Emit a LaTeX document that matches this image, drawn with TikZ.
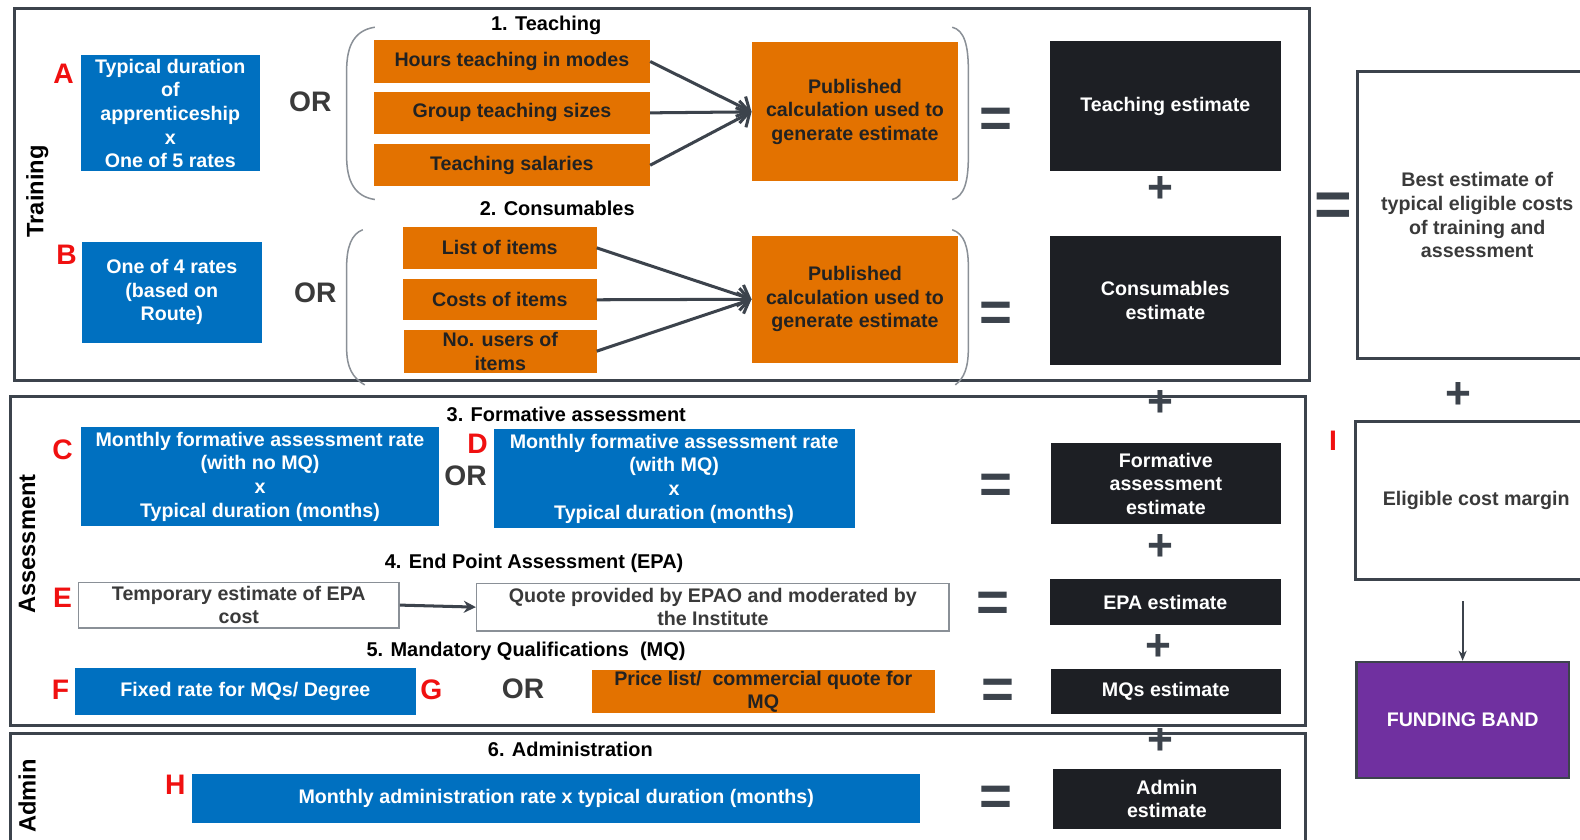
\documentclass[tikz,border=0pt]{standalone}
\usepackage{fontspec}
\setmainfont{Liberation Sans}
\usetikzlibrary{arrows.meta,calc}
\definecolor{cblue}{RGB}{0,112,192}
\definecolor{corange}{HTML}{E37200}
\definecolor{cdark}{HTML}{1D1F24}
\definecolor{cpurple}{HTML}{7030A0}
\definecolor{cframe}{HTML}{3C434C}
\definecolor{cred}{HTML}{F01010}
\definecolor{ctext}{HTML}{222222}
\definecolor{cgraytxt}{HTML}{3A3A3A}
\definecolor{cthin}{HTML}{8A9097}
\begin{document}
\begin{tikzpicture}[x=1pt,y=-1pt,
  box/.style={rectangle, inner sep=0pt, align=center, font=\bfseries\fontsize{19.5}{23.5}\selectfont},
  bluebox/.style={box, fill=cblue, text=white},
  orbox/.style={box, fill=corange, text=ctext},
  blkbox/.style={box, fill=cdark, text=white},
  whbox/.style={box, fill=white, draw=cthin, line width=1.5pt, text=cgraytxt},
  secbox/.style={rectangle, draw=cframe, line width=3pt, inner sep=0pt},
  sidebox/.style={box, draw=cframe, line width=3pt, fill=white, text=cgraytxt},
  head/.style={font=\bfseries\fontsize{19.8}{22}\selectfont, text=black, inner sep=0pt},
  orlbl/.style={font=\bfseries\fontsize{28}{30}\selectfont, text=cgraytxt, inner sep=0pt},
  letter/.style={font=\bfseries\fontsize{28}{30}\selectfont, text=cred, inner sep=0pt},
  eqs/.style={font=\bfseries\fontsize{56}{56}\selectfont, text=cframe, inner sep=0pt},
  pluss/.style={font=\bfseries\fontsize{44}{44}\selectfont, text=cframe, inner sep=0pt},
  side/.style={rotate=90, font=\bfseries\fontsize{23.5}{25}\selectfont, text=black, inner sep=0pt},
  conv/.style={draw=cframe, line width=3pt, -{Straight Barb[length=10pt,width=22pt]}},
  brk/.style={draw=cthin, line width=1.5pt},
  thinarrow/.style={draw=cframe, line width=1.8pt, -{Stealth[length=10pt,width=8pt]}},
  epaarrow/.style={draw=cframe, line width=3pt, -{Stealth[length=12pt,width=12pt]}}
]
\useasboundingbox (0,0) rectangle (1568,833);
\clip (0,0) rectangle (1568,833);
\fill[white] (0,0) rectangle (1568,833);

% section frames
\node[secbox, minimum width=1286, minimum height=370] (train) at (657,193) {};
\node[secbox, minimum width=1286, minimum height=327] (assess) at (653,556.5) {};
\node[secbox, minimum width=1286, minimum height=122] (admin) at (653,789) {};

\node[side] (trainlbl) at (37,190) {Training};
\node[side] (assesslbl) at (27,540) {Assessment};
\node[side] (adminlbl) at (27,790) {Admin};

% ---- Training ----
\node[letter] (la) at (63,73) {A};
\node[bluebox, minimum width=178, minimum height=115] (boxa) at (169,112.5)
  {Typical duration\\of\\apprenticeship\\x\\One of 5 rates};
\node[orlbl] (or1) at (308,101) {OR};
\node[head] (h1) at (542,25) {1. Teaching};
\node[orbox, minimum width=274, minimum height=42] (hours) at (508,61) {Hours teaching in modes};
\node[orbox, minimum width=274, minimum height=42] (group) at (508,112) {Group teaching sizes};
\node[orbox, minimum width=274, minimum height=42] (sal) at (508,164) {Teaching salaries};
\node[orbox, minimum width=205, minimum height=138] (pub1) at (848.5,111)
  {Published\\calculation used to\\generate estimate};
\draw[conv] (hours.east) -- (pub1.west);
\draw[conv] (group.east) -- (pub1.west);
\draw[conv] (sal.east) -- (pub1.west);
\draw[brk] (372,27) .. controls (352,30) and (344,45) .. (344,70) -- (344,155) .. controls (344,180) and (352,195) .. (372,198);
\draw[brk] (945,27) .. controls (957,30) and (961,45) .. (961,70) -- (961,155) .. controls (961,180) and (957,195) .. (945,198);
\node[eqs] (eq1) at (988,122) {=};
\node[blkbox, minimum width=229, minimum height=129] (teachest) at (1156.5,105.5) {Teaching estimate};
\node[pluss] (p1) at (1152,188) {+};

\node[letter] (lb) at (66,253) {B};
\node[bluebox, minimum width=179, minimum height=100] (boxb) at (170.5,290)
  {One of 4 rates\\(based on\\Route)};
\node[orlbl] (or2) at (313,291) {OR};
\node[head] (h2) at (553,207) {2. Consumables};
\node[orbox, minimum width=192, minimum height=42] (list) at (496,246) {List of items};
\node[orbox, minimum width=192, minimum height=41] (costs) at (496,297.5) {Costs of items};
\node[orbox, minimum width=191, minimum height=43] (users) at (496.5,348.5) {No. users of\\items};
\node[orbox, minimum width=205, minimum height=126] (pub2) at (848.5,297)
  {Published\\calculation used to\\generate estimate};
\draw[conv] (list.east) -- (pub2.west);
\draw[conv] (costs.east) -- (pub2.west);
\draw[conv] (users.east) -- (pub2.west);
\draw[brk] (360,228) .. controls (349,232) and (344,245) .. (344,265) -- (344,345) .. controls (344,365) and (350,375) .. (362,382);
\draw[brk] (945,228) .. controls (957,232) and (961,245) .. (961,265) -- (961,345) .. controls (961,365) and (957,375) .. (948,382);
\node[eqs] (eq2) at (988,314) {=};
\node[blkbox, minimum width=229, minimum height=128] (consest) at (1156.5,298) {Consumables\\estimate};

% ---- right column ----
\node[eqs, font=\bfseries\fontsize{64}{64}\selectfont] (eqbig) at (1323,208) {=};
\node[sidebox, minimum width=238, minimum height=285] (best) at (1466,213.5)
  {Best estimate of\\typical eligible costs\\of training and\\assessment};
\node[pluss] (pr) at (1447,392) {+};
\node[letter] (li) at (1323,437) {I};
\node[sidebox, minimum width=240, minimum height=157] (margin) at (1465,496.5) {Eligible cost margin};
\node[box, fill=cpurple, draw=cframe, line width=2.5pt, text=white, minimum width=211, minimum height=115] (band) at (1451.5,714.5) {FUNDING BAND};
\draw[thinarrow] ([yshift=-20pt]margin.south -| band.north) -- (band.north);

% ---- Assessment ----
\node[head] (h3) at (562,411) {3. Formative assessment};
\node[pluss] (p2) at (1152,400) {+};
\node[letter] (lc) at (62,446) {C};
\node[bluebox, minimum width=356, minimum height=98] (boxc) at (258,473)
  {Monthly formative assessment rate\\(with no MQ)\\x\\Typical duration (months)};
\node[orlbl] (or3) at (462,472) {OR};
\node[letter] (ld) at (474,440) {D};
\node[bluebox, minimum width=358, minimum height=98] (boxd) at (669,475)
  {Monthly formative assessment rate\\(with MQ)\\x\\Typical duration (months)};
\node[eqs] (eq3) at (988,485) {=};
\node[blkbox, minimum width=228, minimum height=80] (formest) at (1157,480) {Formative\\assessment\\estimate};
\node[pluss] (p3) at (1152,543) {+};

\node[head] (h4) at (530,559) {4. End Point Assessment (EPA)};
\node[letter] (le) at (62,593) {E};
\node[whbox, minimum width=318, minimum height=45] (boxe) at (237,600.5) {Temporary estimate of EPA\\cost};
\node[whbox, minimum width=469, minimum height=47] (quote) at (707.5,602.5) {Quote provided by EPAO and moderated by\\the Institute};
\draw[epaarrow] (boxe.east) -- (quote.west);
\node[eqs] (eq4) at (985,602) {=};
\node[blkbox, minimum width=229, minimum height=45] (epaest) at (1156.5,597.5) {EPA estimate};
\node[pluss] (p4) at (1150,643) {+};

\node[head] (h5) at (522,646) {5. Mandatory Qualifications\ \ (MQ)};
\node[letter] (lf) at (60,685) {F};
\node[bluebox, minimum width=339, minimum height=47] (boxf) at (243.5,686.5) {Fixed rate for MQs/ Degree};
\node[letter] (lg) at (428,685) {G};
\node[orlbl] (or4) at (519,684) {OR};
\node[orbox, minimum width=341, minimum height=43] (price) at (757.5,686.5) {Price list/\ \ commercial quote for\\MQ};
\node[eqs] (eq5) at (990,689) {=};
\node[blkbox, minimum width=228, minimum height=45] (mqest) at (1157,686.5) {MQs estimate};
\node[pluss] (p5) at (1152,736) {+};

% ---- Admin ----
\node[head] (h6) at (566,744) {6. Administration};
\node[letter] (lh) at (174,779) {H};
\node[bluebox, minimum width=722, minimum height=49] (boxh) at (552,792.5) {Monthly administration rate x typical duration (months)};
\node[eqs] (eq6) at (988,795) {=};
\node[blkbox, minimum width=226, minimum height=60] (adminest) at (1158,793) {Admin\\estimate};
\end{tikzpicture}
\end{document}
